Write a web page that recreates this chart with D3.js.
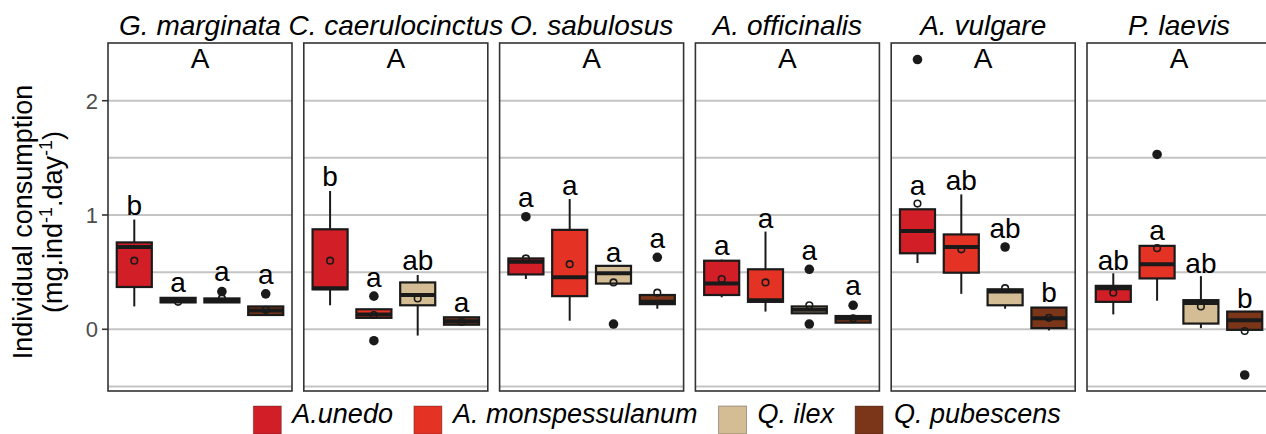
<!DOCTYPE html>
<html>
<head>
<meta charset="utf-8">
<script src="https://cdn.jsdelivr.net/npm/d3@7"></script>
<style>
  body { margin: 0; background: #fff; }
  text { font-family: "Liberation Sans", Arial, sans-serif; }
</style>
</head>
<body>
<script>
// panels (facets) and fill groups
const species = ["G. marginata", "C. caerulocinctus", "O. sabulosus", "A. officinalis", "A. vulgare", "P. laevis"];
const trees = ["A.unedo", "A. monspessulanum", "Q. ilex", "Q. pubescens"];
const treeColors = ["#d21f27", "#e43325", "#d4bd95", "#7b3619"];

// box statistics, one row per panel, one value per tree
const whiskerLow = [
  [0.20, 0.235, 0.23, 0.12],
  [0.21, 0.10, -0.055, 0.04],
  [0.44, 0.075, 0.40, 0.18],
  [0.28, 0.155, 0.14, 0.058],
  [0.58, 0.31, 0.18, -0.01],
  [0.13, 0.25, 0.01, -0.01]
];
const q1 = [
  [0.37, 0.235, 0.235, 0.125],
  [0.35, 0.10, 0.21, 0.04],
  [0.48, 0.29, 0.40, 0.22],
  [0.30, 0.24, 0.14, 0.058],
  [0.665, 0.495, 0.21, 0.01],
  [0.24, 0.445, 0.05, -0.005]
];
const median = [
  [0.72, 0.255, 0.255, 0.165],
  [0.36, 0.13, 0.30, 0.07],
  [0.59, 0.455, 0.49, 0.24],
  [0.40, 0.255, 0.17, 0.096],
  [0.86, 0.72, 0.33, 0.096],
  [0.36, 0.57, 0.23, 0.08]
];
const q3 = [
  [0.76, 0.275, 0.27, 0.20],
  [0.875, 0.175, 0.41, 0.105],
  [0.62, 0.87, 0.555, 0.30],
  [0.60, 0.525, 0.20, 0.116],
  [1.05, 0.83, 0.35, 0.19],
  [0.38, 0.73, 0.255, 0.155]
];
const whiskerHigh = [
  [0.96, 0.275, 0.27, 0.20],
  [1.21, 0.175, 0.475, 0.105],
  [0.62, 1.14, 0.555, 0.30],
  [0.61, 0.855, 0.20, 0.116],
  [1.05, 1.18, 0.35, 0.19],
  [0.49, 0.73, 0.465, 0.155]
];
const means = [
  [0.60, 0.24, 0.27, 0.17],
  [0.60, 0.125, 0.27, 0.065],
  [0.62, 0.57, 0.41, 0.32],
  [0.44, 0.41, 0.21, 0.096],
  [1.10, 0.70, 0.36, 0.10],
  [0.32, 0.71, 0.20, -0.015]
];
const outliers = [
  [[], [], [0.33], [0.31]],
  [[], [0.29, -0.10], [], []],
  [[0.985], [], [0.046], [0.63]],
  [[], [], [0.525, 0.046], [0.21]],
  [[2.36], [], [0.72], []],
  [[], [1.53], [], [-0.40]]
];
// significance letters and their y (data units)
const letters = [
  ["b", "a", "a", "a"],
  ["b", "a", "ab", "a"],
  ["a", "a", "a", "a"],
  ["a", "a", "a", "a"],
  ["a", "ab", "ab", "b"],
  ["ab", "a", "ab", "b"]
];
const letterY = [
  [1.00, 0.33, 0.42, 0.40],
  [1.25, 0.37, 0.52, 0.155],
  [1.07, 1.175, 0.59, 0.71],
  [0.65, 0.89, 0.61, 0.30],
  [1.175, 1.22, 0.80, 0.24],
  [0.52, 0.78, 0.495, 0.19]
];
const panelLetters = ["A", "A", "A", "A", "A", "A"];
const panelLetterY = 2.285;

const yTicks = [0, 1, 2];
const yGrid = [-0.5, 0, 0.5, 1, 1.5, 2];
const yDomain = [-0.54, 2.505];

const width = 1266, height = 434;
const margin = { top: 43, left: 108 };
const panelW = 184, panelGap = 11.8, panelH = 348;

const svg = d3.select("body")
  .append("svg")
  .attr("width", width)
  .attr("height", height);

const y = d3.scaleLinear()
  .domain(yDomain)
  .range([margin.top + panelH, margin.top]);

const x = d3.scalePoint()
  .domain(trees)
  .range([0, panelW])
  .padding(0.6);
const boxW = x.step() * 0.8;
const color = d3.scaleOrdinal().domain(trees).range(treeColors);

function drawPanel(p) {
  const g = svg.append("g")
    .attr("transform", `translate(${margin.left + p * (panelW + panelGap)},0)`);

  g.selectAll("line.grid")
    .data(yGrid)
    .enter().append("line")
    .attr("class", "grid")
    .attr("x1", 0).attr("x2", panelW)
    .attr("y1", d => y(d)).attr("y2", d => y(d))
    .attr("stroke", "#c4c4c4")
    .attr("stroke-width", 2);

  // strip title
  g.append("text")
    .attr("x", panelW / 2)
    .attr("y", 35)
    .attr("text-anchor", "middle")
    .style("font-size", "28px")
    .style("font-style", "italic")
    .text(species[p]);

  g.append("text")
    .attr("x", panelW / 2)
    .attr("y", y(panelLetterY))
    .attr("text-anchor", "middle")
    .style("font-size", "28px")
    .text(panelLetters[p]);

  const rows = trees.map((t, i) => ({
    tree: t,
    lo: whiskerLow[p][i], q1: q1[p][i], med: median[p][i], q3: q3[p][i], hi: whiskerHigh[p][i],
    mean: means[p][i], out: outliers[p][i], letter: letters[p][i], ly: letterY[p][i]
  }));

  const box = g.selectAll("g.box")
    .data(rows)
    .enter().append("g")
    .attr("class", "box")
    .attr("transform", d => `translate(${x(d.tree)},0)`);

  box.append("line")
    .attr("x1", 0).attr("x2", 0)
    .attr("y1", d => y(d.lo)).attr("y2", d => y(d.hi))
    .attr("stroke", "#1a1a1a")
    .attr("stroke-width", 2);

  box.append("rect")
    .attr("x", -boxW / 2)
    .attr("width", boxW)
    .attr("y", d => y(d.q3))
    .attr("height", d => y(d.q1) - y(d.q3))
    .attr("fill", d => color(d.tree))
    .attr("stroke", "#1a1a1a")
    .attr("stroke-width", 2.2);

  box.append("line")
    .attr("x1", -boxW / 2).attr("x2", boxW / 2)
    .attr("y1", d => y(d.med)).attr("y2", d => y(d.med))
    .attr("stroke", "#1a1a1a")
    .attr("stroke-width", 4);

  box.selectAll("circle.out")
    .data(d => d.out)
    .enter().append("circle")
    .attr("class", "out")
    .attr("cx", 0)
    .attr("cy", d => y(d))
    .attr("r", 4.8)
    .attr("fill", "#1a1a1a");

  box.append("circle")
    .attr("cx", 0)
    .attr("cy", d => y(d.mean))
    .attr("r", 3.3)
    .attr("fill", "none")
    .attr("stroke", "#1a1a1a")
    .attr("stroke-width", 1.6);

  box.append("text")
    .attr("x", 0)
    .attr("y", d => y(d.ly))
    .attr("text-anchor", "middle")
    .style("font-size", "28px")
    .text(d => d.letter);

  g.append("rect")
    .attr("x", 0).attr("y", margin.top)
    .attr("width", panelW).attr("height", panelH)
    .attr("fill", "none")
    .attr("stroke", "#333")
    .attr("stroke-width", 1.6);
}

species.forEach((s, p) => drawPanel(p));

// y axis
const axis = svg.append("g");
axis.selectAll("line")
  .data(yTicks)
  .enter().append("line")
  .attr("x1", margin.left - 6).attr("x2", margin.left)
  .attr("y1", d => y(d)).attr("y2", d => y(d))
  .attr("stroke", "#333")
  .attr("stroke-width", 1.6);
axis.selectAll("text")
  .data(yTicks)
  .enter().append("text")
  .attr("x", margin.left - 10)
  .attr("y", d => y(d))
  .attr("dy", "0.36em")
  .attr("text-anchor", "end")
  .attr("fill", "#4d4d4d")
  .style("font-size", "22px")
  .text(d => d);

const yMid = 222;
svg.append("text")
  .attr("transform", `translate(32,${yMid}) rotate(-90)`)
  .attr("text-anchor", "middle")
  .style("font-size", "27px")
  .text("Individual consumption");

const t2 = svg.append("text")
  .attr("transform", `translate(62,${yMid}) rotate(-90)`)
  .attr("text-anchor", "middle")
  .style("font-size", "27px");
t2.append("tspan").text("(mg.ind");
t2.append("tspan").attr("dy", -10).style("font-size", "18px").text("-1");
t2.append("tspan").attr("dy", 10).text(".day");
t2.append("tspan").attr("dy", -10).style("font-size", "18px").text("-1");
t2.append("tspan").attr("dy", 10).text(")");

// legend
const legend = svg.append("g");
const key = 28, keyGap = 11, itemGap = 21;
let lx = 0;
trees.forEach((t, i) => {
  legend.append("rect")
    .attr("x", lx).attr("y", 406)
    .attr("width", key).attr("height", key)
    .attr("fill", treeColors[i])
    .attr("stroke", "#1a1a1a")
    .attr("stroke-opacity", 0.35)
    .attr("stroke-width", 1);
  const txt = legend.append("text")
    .attr("x", lx + key + keyGap)
    .attr("y", 423)
    .style("font-size", "27px")
    .style("font-style", "italic")
    .text(t);
  lx += key + keyGap + txt.node().getComputedTextLength() + itemGap;
});
const legendW = lx - itemGap;
legend.attr("transform", `translate(${657 - legendW / 2},0)`);
</script>
</body>
</html>
